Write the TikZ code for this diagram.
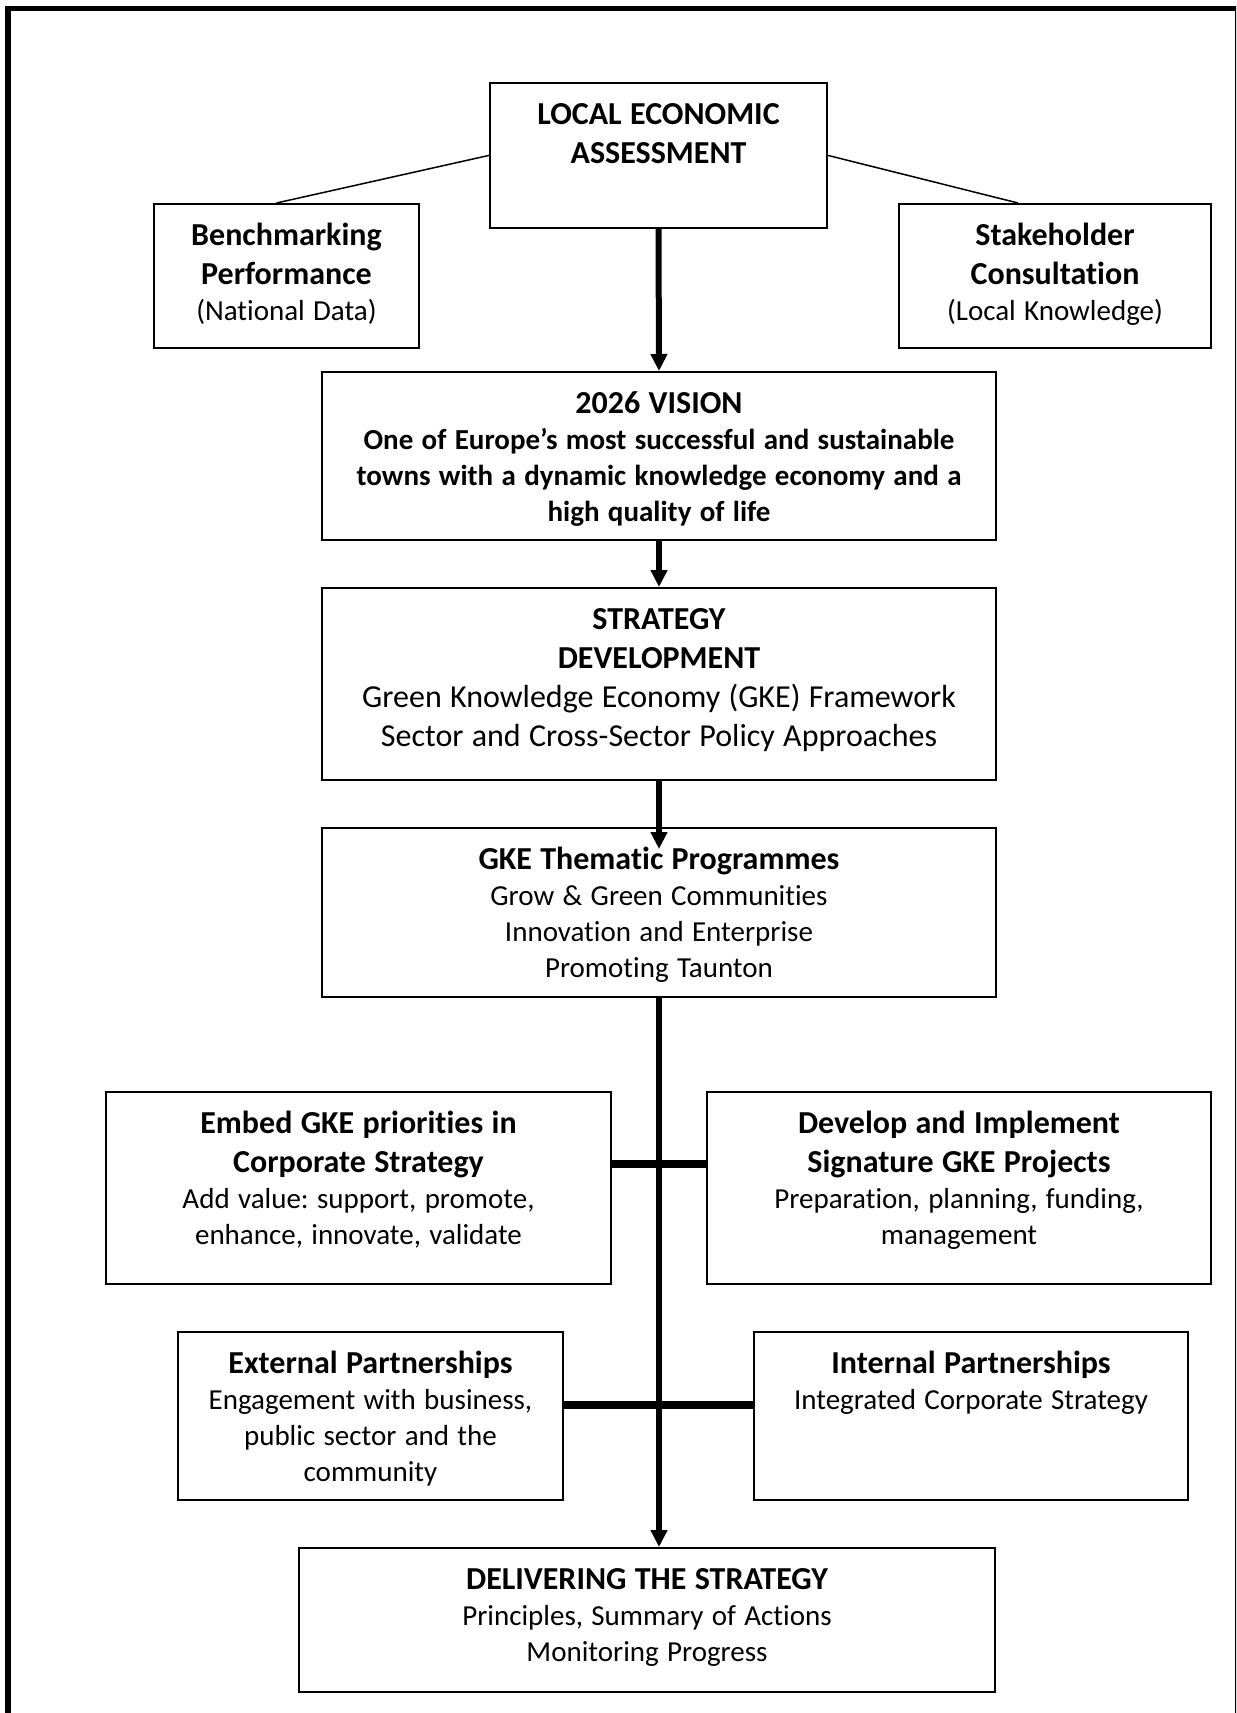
\documentclass[tikz,border=0pt]{standalone}
\usepackage{fontspec}
\setmainfont{Carlito}[Ligatures=NoCommon]
\usetikzlibrary{arrows.meta,positioning,calc}
\frenchspacing

\newcommand{\boxhead}{\fontsize{12.8}{15.6}\selectfont\bfseries}
\newcommand{\boxbody}{\fontsize{11.6}{14.4}\selectfont\mdseries}
\newcommand{\boxbig}{\fontsize{12.8}{15.6}\selectfont\mdseries}

\begin{document}
\begin{tikzpicture}[x=0.4pt, y=-0.4pt,
    box/.style={draw, line width=0.7pt, inner sep=0pt, align=center, anchor=north, text height=16.8pt},
    feed/.style={line width=0.6pt},
    flow/.style={line width=2.4pt, -{Triangle[width=6.4pt,length=6.8pt]}},
    link/.style={line width=3pt}
]
    \useasboundingbox (0,0) rectangle (1236,1713);
    \clip (0,0) rectangle (1236,1713);

    % Outer frame
    \draw[line width=2.3pt] (8,8.5) rectangle (1237.5,1740);

    % Assessment and its two inputs
    \node[box, text width=134.8pt, text depth=41.2pt] (lea) at (658.5,82) {\boxhead LOCAL ECONOMIC\\ASSESSMENT\par};
    \node[box, text width=106pt, text depth=40.8pt] (bench) at (286.5,203) {\boxhead Benchmarking\\Performance\par\boxbody (National Data)\par};
    \node[box, text width=124.8pt, text depth=40.8pt] (stake) at (1055,203) {\boxhead Stakeholder\\Consultation\par\boxbody (Local Knowledge)\par};

    % Main column
    \node[box, text width=269.6pt, text depth=50.4pt] (vision) at (659,371) {\boxhead 2026 VISION\par\boxbody\bfseries One of Europe’s most successful and sustainable\\towns with a dynamic knowledge economy and a\\high quality of life\par};
    \node[box, text width=269.6pt, text depth=60pt] (strategy) at (659,587) {\boxhead STRATEGY\\DEVELOPMENT\par\boxbig Green Knowledge Economy (GKE) Framework\\Sector and Cross-Sector Policy Approaches\par};
    \node[box, text width=269.6pt, text depth=50.8pt] (gke) at (659,827) {\boxhead GKE Thematic Programmes\par\boxbody Grow \& Green Communities\\Innovation and Enterprise\\Promoting Taunton\par};

    % Side boxes
    \node[box, text width=202pt, text depth=60pt] (embed) at (358.5,1091) {\boxhead Embed GKE priorities in\\Corporate Strategy\par\boxbody Add value: support, promote,\\enhance, innovate, validate\par};
    \node[box, text width=201.6pt, text depth=60pt] (develop) at (959,1091) {\boxhead Develop and Implement\\Signature GKE Projects\par\boxbody Preparation, planning, funding,\\management\par};
    \node[box, text width=154pt, text depth=50.4pt] (external) at (370.5,1331) {\boxhead External Partnerships\par\boxbody Engagement with business,\\public sector and the\\community\par};
    \node[box, text width=173.6pt, text depth=50.4pt] (internal) at (971,1331) {\boxhead Internal Partnerships\par\boxbody Integrated Corporate Strategy\par};

    \node[box, text width=278.4pt, text depth=40.8pt] (deliver) at (647,1547) {\boxhead DELIVERING THE STRATEGY\par\boxbody Principles, Summary of Actions\\Monitoring Progress\par};

    % Connectors
    \draw[feed] (lea.west) -- ([xshift=-4pt]bench.north);
    \draw[feed] (lea.east) -- ([xshift=-14.8pt]stake.north);

    \draw[flow] (lea.south) -- (vision.north);
    \draw[flow] (vision.south) -- (strategy.north);
    \draw[flow] (strategy.south) -- ([yshift=-8.8pt]gke.north);
    \draw[flow] (gke.south) -- (gke.south |- deliver.north);

    \draw[link] ([yshift=9.6pt]embed.east) -- ([yshift=9.6pt]develop.west);
    \draw[link] ([yshift=4.4pt]external.east) -- ([yshift=4.4pt]internal.west);
\end{tikzpicture}
\end{document}
